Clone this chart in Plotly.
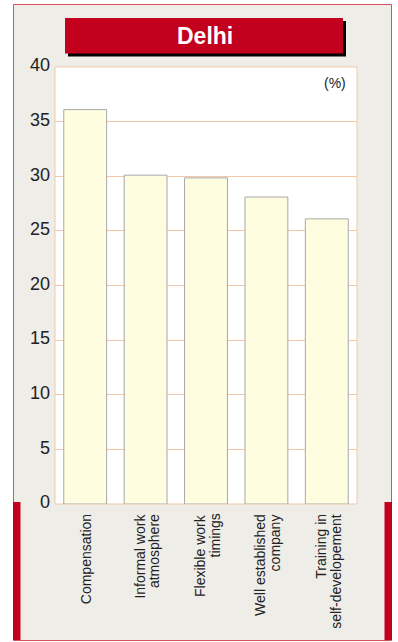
import plotly.graph_objects as go

categories = ["Compensation", "Informal work<br>atmosphere", "Flexible work<br>timings",
              "Well established<br>company", "Training in<br>self-developement"]
values = [36.1, 30.1, 29.85, 28.1, 26.1]
y_ticks = [0, 5, 10, 15, 20, 25, 30, 35, 40]
title_text = "Delhi"
unit_text = "(%)"

W, H = 398, 642
L, R, T, B = 55, 357, 67, 504  # plot area in pixels

def px(x):
    return (x - L) / (R - L)

def py(y):
    return (B - y) / (B - T)

RED = "#C4001F"
FRAME = "#D9505F"
GRAY_BG = "#EEEDE8"
GRID = "#F3C7AA"
FONT = "Liberation Sans, Arial, sans-serif"

fig = go.Figure()
fig.add_trace(go.Bar(
    x=categories, y=values,
    marker=dict(color="#FFFDE0", line=dict(color="#A8A8A8", width=1)),
    hoverinfo="skip",
))

shapes = [
    # outer frame
    dict(type="rect", xref="paper", yref="paper", x0=px(13.5), x1=px(391.5), y0=py(640.5), y1=py(4.5),
         fillcolor=GRAY_BG, line=dict(color=FRAME, width=1), layer="below"),
    # white plot area
    dict(type="rect", xref="paper", yref="paper", x0=px(L), x1=px(R), y0=py(B), y1=py(T),
         fillcolor="white", line=dict(color=GRID, width=1), layer="below"),
    # red side bars
    dict(type="rect", xref="paper", yref="paper", x0=px(13), x1=px(20.5), y0=py(640), y1=py(502),
         fillcolor=RED, line=dict(width=0), layer="above"),
    dict(type="rect", xref="paper", yref="paper", x0=px(384.5), x1=px(392), y0=py(640), y1=py(502),
         fillcolor=RED, line=dict(width=0), layer="above"),
    # title shadow and box
    dict(type="rect", xref="paper", yref="paper", x0=px(68), x1=px(346), y0=py(56.5), y1=py(21),
         fillcolor="black", line=dict(width=0), layer="above"),
    dict(type="rect", xref="paper", yref="paper", x0=px(65), x1=px(343), y0=py(53.5), y1=py(18),
         fillcolor=RED, line=dict(width=0), layer="above"),
]

annotations = [
    dict(text="<b>" + title_text + "</b>", xref="paper", yref="paper", x=px(205), y=py(36),
         xanchor="center", yanchor="middle", showarrow=False,
         font=dict(family=FONT, size=23, color="white")),
    dict(text=unit_text, xref="paper", yref="paper", x=px(348), y=py(83),
         xanchor="right", yanchor="middle", showarrow=False,
         font=dict(family=FONT, size=14, color="#222")),
]

line_gap = 15
for cat in categories:
    lines = cat.split("<br>")
    n = len(lines)
    for i, ln in enumerate(lines):
        annotations.append(dict(
            text=ln, x=cat, xref="x", yref="paper", y=py(512),
            xanchor="center", yanchor="top", textangle=-90, showarrow=False,
            xshift=(i - (n - 1) / 2) * line_gap + 1,
            font=dict(family=FONT, size=14, color="#222"),
        ))

fig.update_layout(
    width=W, height=H,
    margin=dict(l=L, r=W - R, t=T, b=H - B, pad=0),
    paper_bgcolor="white", plot_bgcolor="white",
    showlegend=False, bargap=0.29,
    shapes=shapes, annotations=annotations,
    font=dict(family=FONT, color="#222"),
)
fig.update_xaxes(showticklabels=False, showgrid=False, zeroline=False, showline=False, ticks="")
fig.update_yaxes(range=[0, 40], tickvals=y_ticks, showgrid=True, gridcolor=GRID, gridwidth=1,
                 zeroline=False, showline=False, ticks="", ticklabelshift=-2, ticklabelstandoff=4,
                 tickfont=dict(family=FONT, size=18, color="#222"))

fig.write_html("out.html")
